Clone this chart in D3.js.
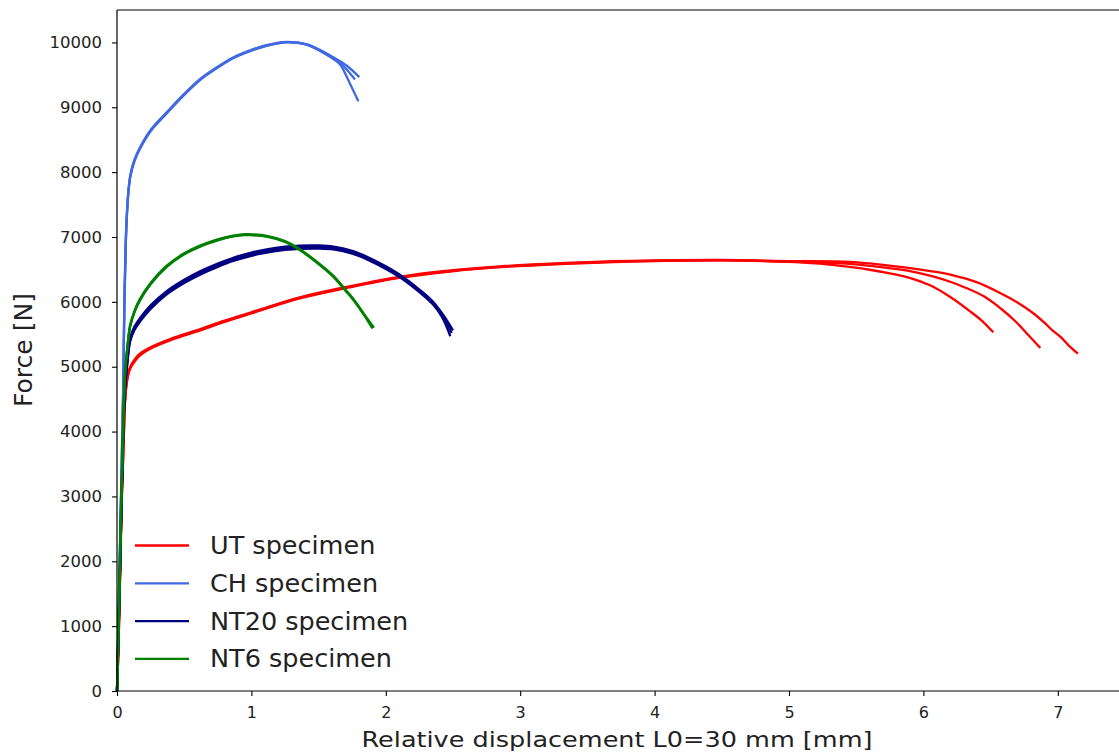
<!DOCTYPE html>
<html><head><meta charset="utf-8">
<script src="https://cdn.jsdelivr.net/npm/d3@7"></script>
<style>body{margin:0;background:#fff}svg{display:block}text{font-family:"DejaVu Sans",sans-serif;fill:#222}</style>
</head><body><svg id="c" width="1119" height="755"></svg>
<script>
// ---- data (displacement mm, force N) ----
const xTicks = [0,1,2,3,4,5,6,7];
const yTicks = [0,1000,2000,3000,4000,5000,6000,7000,8000,9000,10000];
const legendLabels = ["UT specimen","CH specimen","NT20 specimen","NT6 specimen"];
const seriesColors = ["#ff0000","#4169e1","#000080","#008000"];

const UT1 = [[0,0],[0.01,600],[0.02,1500],[0.035,2950],[0.05,3900],[0.06,4490],[0.075,4800],[0.09,4940],[0.11,5030],[0.14,5120],[0.17,5185],[0.25,5290],[0.4,5420],[0.62,5570],[0.8,5700],[1.0,5830],[1.36,6060],[1.73,6230],[2.11,6380],[2.48,6475],[2.85,6540],[3.3,6590],[3.7,6620],[4.0,6632],[4.5,6640],[5.0,6615],[5.3,6575],[5.45,6538],[5.6,6495],[5.75,6440],[5.85,6395],[5.95,6335],[6.05,6255],[6.2,6075],[6.35,5850],[6.44,5700],[6.52,5530]];
const UT2 = [[0,0],[0.01,620],[0.02,1550],[0.035,3000],[0.05,3950],[0.06,4520],[0.075,4820],[0.09,4955],[0.11,5045],[0.14,5135],[0.17,5200],[0.25,5300],[0.4,5430],[0.62,5580],[0.8,5710],[1.0,5840],[1.36,6070],[1.73,6240],[2.11,6390],[2.48,6485],[2.85,6548],[3.3,6597],[3.7,6626],[4.0,6638],[4.5,6645],[5.0,6622],[5.3,6600],[5.45,6585],[5.7,6530],[5.9,6475],[6.07,6394],[6.2,6310],[6.3,6230],[6.45,6085],[6.58,5890],[6.69,5690],[6.78,5490],[6.87,5289]];
const UT3 = [[0,0],[0.01,580],[0.02,1450],[0.035,2900],[0.05,3850],[0.06,4460],[0.075,4780],[0.09,4925],[0.11,5015],[0.14,5105],[0.17,5170],[0.25,5280],[0.4,5410],[0.62,5560],[0.8,5690],[1.0,5822],[1.36,6052],[1.73,6222],[2.11,6372],[2.48,6468],[2.85,6534],[3.3,6584],[3.7,6614],[4.0,6628],[4.5,6642],[5.0,6628],[5.45,6616],[5.7,6570],[5.9,6520],[6.05,6475],[6.2,6420],[6.4,6300],[6.57,6137],[6.7,5990],[6.82,5820],[6.9,5680],[6.96,5560],[7.02,5460],[7.08,5330],[7.15,5200]];

const CH1 = [[0,0],[0.015,1500],[0.03,3000],[0.045,4500],[0.055,6000],[0.065,6900],[0.075,7400],[0.085,7700],[0.1,7950],[0.13,8180],[0.171,8370],[0.25,8640],[0.37,8915],[0.5,9200],[0.618,9429],[0.75,9620],[0.865,9763],[1.0,9880],[1.114,9954],[1.263,10005],[1.41,9975],[1.56,9830],[1.61,9770],[1.71,9640],[1.803,9465]];
const CH2 = [[0,0],[0.015,1450],[0.03,2950],[0.045,4450],[0.055,5950],[0.065,6860],[0.075,7380],[0.085,7685],[0.1,7935],[0.13,8168],[0.171,8360],[0.25,8630],[0.37,8905],[0.5,9190],[0.618,9420],[0.75,9612],[0.865,9756],[1.0,9873],[1.114,9948],[1.263,10000],[1.41,9965],[1.56,9815],[1.61,9750],[1.66,9685],[1.72,9557],[1.771,9429]];
const CH3 = [[0,0],[0.015,1550],[0.03,3050],[0.045,4550],[0.055,6050],[0.065,6940],[0.075,7420],[0.085,7715],[0.1,7965],[0.13,8192],[0.171,8380],[0.25,8650],[0.37,8922],[0.5,9206],[0.618,9435],[0.75,9626],[0.865,9768],[1.0,9884],[1.114,9958],[1.263,10008],[1.41,9968],[1.56,9810],[1.61,9745],[1.66,9660],[1.73,9380],[1.796,9094]];

const NT20a = [[0,0],[0.015,1200],[0.03,2600],[0.045,3900],[0.06,4700],[0.08,5170],[0.097,5440],[0.13,5620],[0.171,5750],[0.25,5945],[0.37,6165],[0.5,6340],[0.618,6470],[0.75,6590],[0.865,6680],[1.0,6760],[1.114,6810],[1.25,6850],[1.36,6868],[1.5,6870],[1.61,6852],[1.75,6786],[1.86,6696],[2.0,6548],[2.11,6410],[2.25,6190],[2.35,6005],[2.43,5790],[2.50,5560]];
const NT20b = [[0,0],[0.015,1180],[0.03,2560],[0.045,3860],[0.06,4670],[0.08,5140],[0.097,5410],[0.13,5592],[0.171,5722],[0.25,5918],[0.37,6140],[0.5,6315],[0.618,6445],[0.75,6565],[0.865,6655],[1.0,6735],[1.114,6785],[1.25,6825],[1.36,6843],[1.5,6846],[1.61,6830],[1.75,6765],[1.86,6675],[2.0,6527],[2.11,6390],[2.25,6168],[2.35,5982],[2.43,5765],[2.49,5520]];
const NT20c = [[0,0],[0.015,1160],[0.03,2520],[0.045,3820],[0.06,4640],[0.08,5110],[0.097,5380],[0.13,5565],[0.171,5695],[0.25,5890],[0.37,6115],[0.5,6290],[0.618,6420],[0.75,6540],[0.865,6630],[1.0,6710],[1.114,6760],[1.25,6800],[1.36,6818],[1.5,6822],[1.61,6808],[1.75,6744],[1.86,6655],[2.0,6508],[2.11,6372],[2.25,6150],[2.35,5962],[2.42,5760],[2.48,5470]];

const NT6a = [[0,0],[0.015,1300],[0.03,2800],[0.045,4000],[0.06,4900],[0.08,5350],[0.097,5622],[0.13,5850],[0.171,6034],[0.25,6280],[0.37,6548],[0.5,6740],[0.618,6860],[0.75,6955],[0.865,7015],[0.94,7035],[1.0,7035],[1.114,7011],[1.25,6930],[1.36,6806],[1.5,6590],[1.61,6394],[1.7,6180],[1.76,6034],[1.84,5800],[1.907,5597]];
const NT6b = [[0,0],[0.015,1280],[0.03,2780],[0.045,3980],[0.06,4880],[0.08,5335],[0.097,5610],[0.13,5838],[0.171,6022],[0.25,6270],[0.37,6538],[0.5,6732],[0.618,6852],[0.75,6948],[0.865,7008],[0.94,7028],[1.0,7028],[1.114,7004],[1.25,6922],[1.36,6798],[1.5,6582],[1.61,6386],[1.7,6172],[1.76,6026],[1.84,5792],[1.90,5590]];
const NT6c = [[0,0],[0.015,1320],[0.03,2820],[0.045,4020],[0.06,4920],[0.08,5365],[0.097,5634],[0.13,5862],[0.171,6046],[0.25,6290],[0.37,6558],[0.5,6748],[0.618,6867],[0.75,6962],[0.865,7022],[0.94,7042],[1.0,7041],[1.114,7017],[1.25,6937],[1.36,6813],[1.5,6597],[1.61,6401],[1.7,6187],[1.76,6041],[1.84,5808],[1.912,5603]];

const groups = [[UT1,UT2,UT3],[CH1,CH2,CH3],[NT20a,NT20b,NT20c],[NT6a,NT6b,NT6c]];

// ---- layout ----
const svg = d3.select("#c");
const L = 117, T = 10, B = 691;
const x = d3.scaleLinear().domain([0,7.5]).range([L, L + 7.5*134.4]);
const y = d3.scaleLinear().domain([0,10500]).range([B, T]);
const R = x(7.5);

const line = d3.line().x(d=>x(d[0])).y(d=>y(d[1])).curve(d3.curveCatmullRom.alpha(0.5));
const g = svg.append("g");
groups.forEach((grp,i)=>{
  grp.forEach(s=>{
    g.append("path").attr("d", line(s)).attr("fill","none")
      .attr("stroke", seriesColors[i]).attr("stroke-width",2.3)
      .attr("stroke-linejoin","round").attr("stroke-linecap","butt");
  });
});

// spines
svg.append("line").attr("x1",L).attr("x2",L).attr("y1",T).attr("y2",B).attr("stroke","#000").attr("stroke-width",1.2);
svg.append("line").attr("x1",L).attr("x2",R).attr("y1",B).attr("y2",B).attr("stroke","#000").attr("stroke-width",1.2);
svg.append("line").attr("x1",L).attr("x2",R).attr("y1",T).attr("y2",T).attr("stroke","#000").attr("stroke-width",1.2);
svg.append("line").attr("x1",R).attr("x2",R).attr("y1",T).attr("y2",B).attr("stroke","#000").attr("stroke-width",1.2);

// axes
const xa = svg.append("g").attr("transform",`translate(0,${B})`)
  .call(d3.axisBottom(x).tickValues(xTicks).tickFormat(d3.format("d")).tickSize(5).tickPadding(11));
const ya = svg.append("g").attr("transform",`translate(${L},0)`)
  .call(d3.axisLeft(y).tickValues(yTicks).tickFormat(d3.format("d")).tickSize(5).tickPadding(10));
[xa,ya].forEach(a=>{
  a.select(".domain").remove();
  a.selectAll(".tick line").attr("stroke","#000").attr("stroke-width",1.1);
  a.selectAll(".tick text").attr("font-family","DejaVu Sans").attr("fill","#222");
});
xa.selectAll(".tick text").attr("font-size",16);
ya.selectAll(".tick text").attr("font-size",16.5);

// axis labels
svg.append("text").attr("x",617).attr("y",747).attr("text-anchor","middle")
  .attr("font-size",21.5).attr("textLength",511).attr("lengthAdjust","spacingAndGlyphs")
  .text("Relative displacement L0=30 mm [mm]");
svg.append("text").attr("transform","translate(32,350) rotate(-90)").attr("text-anchor","middle")
  .attr("font-size",25).attr("textLength",114).attr("lengthAdjust","spacingAndGlyphs")
  .text("Force [N]");

// legend
const lg = svg.append("g");
legendLabels.forEach((lab,i)=>{
  const by = 554 + i*37.8;
  lg.append("line").attr("x1",135).attr("x2",189).attr("y1",by-8.5).attr("y2",by-8.5)
    .attr("stroke",seriesColors[i]).attr("stroke-width",2.3);
  lg.append("text").attr("x",210).attr("y",by).attr("font-size",25.5).text(lab);
});
</script></body></html>
